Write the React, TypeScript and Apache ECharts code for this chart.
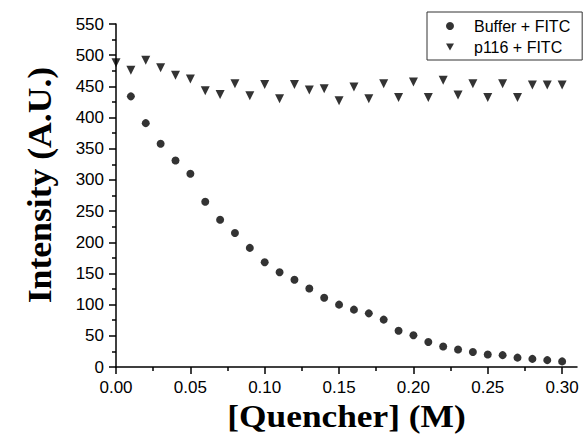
import React, { useEffect, useRef } from "react";
import * as echarts from "echarts";

// Quencher concentration (M)
const concentrations = [
  0.0, 0.01, 0.02, 0.03, 0.04, 0.05, 0.06, 0.07, 0.08, 0.09, 0.1, 0.11, 0.12,
  0.13, 0.14, 0.15, 0.16, 0.17, 0.18, 0.19, 0.2, 0.21, 0.22, 0.23, 0.24, 0.25,
  0.26, 0.27, 0.28, 0.29, 0.3,
];
// Buffer + FITC (no visible point at 0.00)
const bufferFitc: (number | null)[] = [
  null, 434, 391, 358, 331, 310, 265, 236, 215, 191, 168, 152, 140, 126, 111,
  100, 92, 86, 76, 58, 51, 40, 33, 28, 24, 20, 19, 15, 13, 11, 9,
];
// p116 + FITC
const p116Fitc = [
  488, 476, 492, 480, 468, 462, 443, 437, 454, 435, 453, 430, 453, 444, 446,
  427, 449, 430, 454, 432, 457, 432, 460, 436, 454, 432, 454, 432, 452, 452,
  452,
];
const seriesNames = ["Buffer + FITC", "p116 + FITC"];
const xMajorTicks = [0, 0.05, 0.1, 0.15, 0.2, 0.25, 0.3];
const xMinorTicks = [0.025, 0.075, 0.125, 0.175, 0.225, 0.275];
const xTitle = "[Quencher] (M)";
const yTitle = "Intensity (A.U.)";

const SANS = "'Liberation Sans', Arial, sans-serif";
const SERIF = "'Liberation Serif', 'Times New Roman', serif";
const DOWN_TRIANGLE = "path://M0,0 L10,0 L5,9 Z";

export default function App() {
  const ref = useRef<HTMLDivElement>(null);
  useEffect(() => {
    document.body.style.margin = "0";
    if (!ref.current) return;
    const chart = echarts.init(ref.current, undefined, { renderer: "svg" });
    const pairs = (ys: (number | null)[]) =>
      concentrations
        .map((x, i) => [x, ys[i]])
        .filter((p) => p[1] !== null && p[1] !== undefined);

    const axisLineStyle = { color: "#000", width: 1.5 };
    chart.setOption({
      animation: false,
      backgroundColor: "#fff",
      grid: { left: 116, right: 7, top: 24, bottom: 68, containLabel: false },
      xAxis: [
        {
          type: "value",
          min: 0,
          max: 0.31,
          axisLine: { show: true, lineStyle: axisLineStyle },
          axisTick: {
            show: true,
            length: 7,
            lineStyle: axisLineStyle,
            customValues: xMajorTicks,
          },
          minorTick: { show: false },
          splitLine: { show: false },
          axisLabel: {
            customValues: xMajorTicks,
            formatter: (v: number) => v.toFixed(2),
            color: "#000",
            fontFamily: SANS,
            fontSize: 17,
            margin: 12,
          },
        },
        {
          type: "value",
          gridIndex: 0,
          position: "bottom",
          min: 0,
          max: 0.31,
          axisLine: { show: false },
          axisTick: {
            show: true,
            length: 4,
            lineStyle: axisLineStyle,
            customValues: xMinorTicks,
          },
          axisLabel: { show: false },
          splitLine: { show: false },
        },
      ],
      yAxis: {
        type: "value",
        min: 0,
        max: 550,
        interval: 50,
        axisLine: { show: true, lineStyle: axisLineStyle },
        axisTick: { show: true, length: 7, lineStyle: axisLineStyle },
        minorTick: {
          show: true,
          splitNumber: 2,
          length: 4,
          lineStyle: axisLineStyle,
        },
        splitLine: { show: false },
        axisLabel: {
          color: "#000",
          fontFamily: SANS,
          fontSize: 17,
          margin: 12,
        },
      },
      legend: {
        orient: "vertical",
        left: 427,
        top: 12,
        padding: [6, 12, 5, 19],
        itemWidth: 8,
        itemHeight: 8,
        itemGap: 5,
        borderColor: "#333",
        borderWidth: 1,
        textStyle: {
          color: "#000",
          fontFamily: SANS,
          fontSize: 16,
          lineHeight: 16,
          padding: [0, 0, 0, 15],
        },
        data: [
          { name: seriesNames[0], icon: "circle" },
          { name: seriesNames[1], icon: DOWN_TRIANGLE },
        ],
      },
      series: [
        {
          name: seriesNames[0],
          type: "scatter",
          symbol: "circle",
          symbolSize: 8,
          itemStyle: { color: "#000" },
          data: pairs(bufferFitc),
        },
        {
          name: seriesNames[1],
          type: "scatter",
          symbol: "triangle",
          symbolRotate: 180,
          symbolSize: 9,
          itemStyle: { color: "#000" },
          data: pairs(p116Fitc),
        },
      ],
      graphic: [
        {
          type: "text",
          x: 346.5,
          y: 416.5,
          scaleX: 1.14,
          style: {
            text: xTitle,
            x: 0,
            y: 0,
            align: "center",
            verticalAlign: "middle",
            font: `bold 31px ${SERIF}`,
            fill: "#000",
          },
        },
        {
          type: "text",
          x: 39,
          y: 185,
          rotation: Math.PI / 2,
          scaleX: 1.08,
          style: {
            text: yTitle,
            x: 0,
            y: 0,
            align: "center",
            verticalAlign: "middle",
            font: `bold 33px ${SERIF}`,
            fill: "#000",
          },
        },
      ],
    });
    return () => chart.dispose();
  }, []);
  return <div ref={ref} style={{ width: 584, height: 435 }} />;
}
